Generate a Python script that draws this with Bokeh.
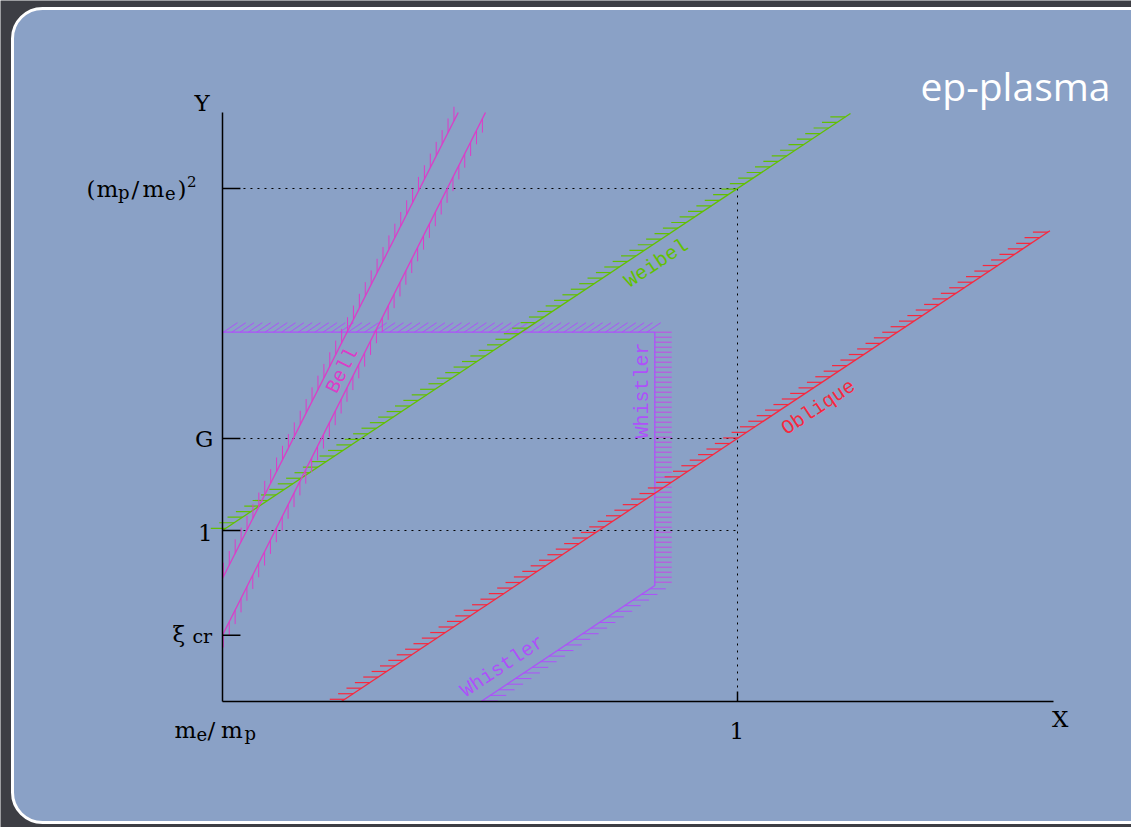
import numpy as np
from bokeh.plotting import figure
from bokeh.models import LinearAxis, FixedTicker, ColumnDataSource
from bokeh.core.properties import value
from bokeh.embed import file_html
from bokeh.resources import INLINE

# ---------------- data (log10 units of X and Y) ----------------
MP_OVER_ME = 1836.15
LOG_R = float(np.log10(MP_OVER_ME))      # log10(mp/me)
X_ORIGIN = -LOG_R                         # X = me/mp
Y_ORIGIN = -LOG_R                         # bottom of Y axis
Y_TOP = 7.98
X_END = 2.0

Y_TICK_VALUES = [-2.0, 0.0, 1.756, 2 * LOG_R]       # xi_cr, 1, G, (mp/me)^2
Y_TICK_LABELS = ["ξcr", "1", "G", "(mp/me)2"]
X_TICK_VALUES = [X_ORIGIN, 0.0]                      # me/mp, 1
X_TICK_LABELS = ["me/mp", "1"]

weibel_x = [X_ORIGIN, 0.716]
weibel_y = [0.0, 7.96]
oblique_x = [-2.51, 1.98]
oblique_y = [Y_ORIGIN, 5.72]
bell_upper_x = [X_ORIGIN, -1.770]
bell_upper_y = [-0.916, 7.98]
bell_lower_x = [X_ORIGIN, -1.597]
bell_lower_y = [-2.0, 7.98]
whistler_x = [X_ORIGIN, -0.524, -0.524, -1.625]
whistler_y = [3.785, 3.785, -1.050, Y_ORIGIN]

# ---------------- layout / style ----------------
W, H = 1131, 827
SX = 157.8      # px per unit in x
SY = 52.39      # px per unit in y
PX0, PY0 = 737.0, 530.0   # pixel of (0, 0)

def dx(px):
    return (px - PX0) / SX

def dy(py):
    return (PY0 - py) / SY

DARK = "#3d3e44"
PANEL = "#8aa1c6"
BELL = "#dc3cc8"
WHIS = "#ae50fa"
GREEN = "#62c000"
RED = "#f8283e"
SERIF = value("DejaVu Serif")
MONO = value("Liberation Mono")
BASE_FIX = -8.5   # baseline correction (px)

p = figure(width=W, height=H, x_range=(dx(0), dx(W)), y_range=(dy(H), dy(0)),
           output_backend="svg", toolbar_location=None, min_border=0,
           x_axis_location=None, y_axis_location=None,
           background_fill_color=DARK, border_fill_color=DARK,
           outline_line_color=None)
p.grid.visible = False

# rounded slide panel
p.quad(left=[dx(12)], right=[dx(1160)], top=[dy(8)], bottom=[dy(822)],
       fill_color=PANEL, line_color="white", line_width=3, border_radius=30)

# ---------------- dotted guide lines ----------------
p.segment(x0=[X_ORIGIN] * 3, y0=Y_TICK_VALUES[1:], x1=[0.0] * 3, y1=Y_TICK_VALUES[1:],
          line_color="black", line_width=1, line_dash="2 5")
p.segment(x0=[0.0], y0=[Y_ORIGIN], x1=[0.0], y1=[Y_TICK_VALUES[3]],
          line_color="black", line_width=1, line_dash="2 5")

# ---------------- hatch helper ----------------
def hatch(xs, ys, spacing, hx, hy, offset=0.0):
    bx_all, by_all, ex_all, ey_all = [], [], [], []
    for i in range(len(xs) - 1):
        x0, y0, x1, y1 = xs[i], ys[i], xs[i + 1], ys[i + 1]
        L = np.hypot((x1 - x0) * SX, (y1 - y0) * SY)
        t = np.arange(offset, L + 1e-6, spacing) / L
        bx = x0 + t * (x1 - x0)
        by = y0 + t * (y1 - y0)
        bx_all.append(bx); by_all.append(by)
        ex_all.append(bx + hx / SX); ey_all.append(by - hy / SY)
    return (np.concatenate(bx_all), np.concatenate(by_all),
            np.concatenate(ex_all), np.concatenate(ey_all))

def draw_hatch(xs, ys, spacing, hx, hy, color, offset=0.0, width=1.0):
    bx, by, ex, ey = hatch(xs, ys, spacing, hx, hy, offset)
    p.segment(x0=bx, y0=by, x1=ex, y1=ey, line_color=color, line_width=width)

# Whistler
draw_hatch(whistler_x[:2], whistler_y[:2], 8.3, 14, -9.5, WHIS, offset=1)
draw_hatch(whistler_x[1:3], whistler_y[1:3], 5.0, 17, 0, "#c64ae6", offset=0)
draw_hatch(whistler_x[2:4], whistler_y[2:4], 10.1, 16, 0, WHIS, offset=6)
p.line(whistler_x, whistler_y, line_color=WHIS, line_width=1.3)

# Weibel
draw_hatch(weibel_x, weibel_y, 10.05, -15, 0, GREEN, offset=4, width=1.2)
p.line(weibel_x, weibel_y, line_color=GREEN, line_width=1.3)

# Oblique
draw_hatch(oblique_x, oblique_y, 10.05, -15, 0, RED, offset=4, width=1.2)
p.line(oblique_x, oblique_y, line_color=RED, line_width=1.3)

# Bell
draw_hatch(bell_upper_x, bell_upper_y, 13.1, 0, -14, BELL, offset=2)
draw_hatch(bell_lower_x, bell_lower_y, 13.1, 0, 14, BELL, offset=2)
p.line(bell_upper_x, bell_upper_y, line_color=BELL, line_width=1.3)
p.line(bell_lower_x, bell_lower_y, line_color=BELL, line_width=1.3)

# ---------------- axes (lines from Bokeh axes, ticks as short segments) ----------------
yax = LinearAxis(fixed_location=X_ORIGIN, ticker=FixedTicker(ticks=[]),
                 bounds=(Y_ORIGIN, Y_TOP), major_tick_in=0, major_tick_out=0,
                 minor_tick_in=0, minor_tick_out=0,
                 axis_line_color="black", axis_line_width=1.5)
p.add_layout(yax, "left")
xax = LinearAxis(fixed_location=Y_ORIGIN, ticker=FixedTicker(ticks=[]),
                 bounds=(X_ORIGIN, X_END), major_tick_in=0, major_tick_out=0,
                 minor_tick_in=0, minor_tick_out=0,
                 axis_line_color="black", axis_line_width=1.5)
p.add_layout(xax, "below")

p.segment(x0=[X_ORIGIN] * 4, y0=Y_TICK_VALUES, x1=[X_ORIGIN + 18 / SX] * 4,
          y1=Y_TICK_VALUES, line_color="black", line_width=1.5)
p.segment(x0=[X_TICK_VALUES[1]], y0=[Y_ORIGIN], x1=[X_TICK_VALUES[1]],
          y1=[Y_ORIGIN + 10 / SY], line_color="black", line_width=1.5)

# ---------------- tick labels (pieces with sub/superscripts) ----------------
# (anchor x, anchor y, text, x offset px, y offset px, font size)
pieces = [
    # (mp/me)^2
    (X_ORIGIN, Y_TICK_VALUES[3], "(", -136.0, 8.5, 23),
    (X_ORIGIN, Y_TICK_VALUES[3], "m", -126.0, 8.5, 23),
    (X_ORIGIN, Y_TICK_VALUES[3], "p", -104.5, 12.5, 18),
    (X_ORIGIN, Y_TICK_VALUES[3], "/", -91.0, 8.5, 23),
    (X_ORIGIN, Y_TICK_VALUES[3], "m", -80.0, 8.5, 23),
    (X_ORIGIN, Y_TICK_VALUES[3], "e", -57.5, 12.5, 18),
    (X_ORIGIN, Y_TICK_VALUES[3], ")", -45.0, 8.5, 23),
    (X_ORIGIN, Y_TICK_VALUES[3], "2", -35.5, 1.5, 15),
    # G
    (X_ORIGIN, Y_TICK_VALUES[2], "G", -27.5, 9.0, 23),
    # 1
    (X_ORIGIN, Y_TICK_VALUES[1], "1", -24.5, 10.5, 23),
    # xi_cr
    (X_ORIGIN, Y_TICK_VALUES[0], "ξ", -50.0, 7.5, 23),
    (X_ORIGIN, Y_TICK_VALUES[0], "cr", -30.0, 9.0, 19),
    # me/mp
    (X_TICK_VALUES[0], Y_ORIGIN, "m", -48.0, 37.5, 23),
    (X_TICK_VALUES[0], Y_ORIGIN, "e", -26.0, 41.0, 18),
    (X_TICK_VALUES[0], Y_ORIGIN, "/", -15.0, 37.5, 23),
    (X_TICK_VALUES[0], Y_ORIGIN, "m", -1.5, 37.5, 23),
    (X_TICK_VALUES[0], Y_ORIGIN, "p", 22.0, 41.0, 18),
    # 1 on X
    (X_TICK_VALUES[1], Y_ORIGIN, "1", -8.0, 38.5, 23),
    # axis names
    (X_ORIGIN, Y_TOP, "Y", -28.0, -0.5, 23),
    (X_END, Y_ORIGIN, "X", -1.0, 26.5, 23),
]
src = ColumnDataSource(dict(
    x=[q[0] for q in pieces], y=[q[1] for q in pieces], text=[q[2] for q in pieces],
    xo=[q[3] for q in pieces], yo=[q[4] + BASE_FIX for q in pieces],
    fs=["%dpx" % q[5] for q in pieces]))
p.text(x="x", y="y", text="text", x_offset="xo", y_offset="yo", text_font_size="fs",
       source=src, text_font=SERIF, text_color="black", text_align="left",
       text_baseline="alphabetic")

# ---------------- curve labels ----------------
ang_weak = np.arctan2(0.661, 1.0)    # slope of the X^2 lines on screen
ang_bell = np.arctan2(1.98, 1.0)
curve_labels = dict(
    x=[dx(342), dx(656), dx(818), dx(642), dx(502)],
    y=[dy(370), dy(263), dy(407), dy(390), dy(666)],
    text=["Bell", "Weibel", "Oblique", "Whistler", "Whistler"],
    angle=[ang_bell, ang_weak, ang_weak, np.pi / 2, ang_weak],
    color=[BELL, GREEN, RED, WHIS, WHIS],
)
p.text(x="x", y="y", text="text", angle="angle", text_color="color",
       source=ColumnDataSource(curve_labels), text_font=MONO,
       text_font_size="20px", text_align="center", text_baseline="middle")

# slide title
p.text(x=[dx(1110)], y=[dy(95)], text=["ep-plasma"], text_color="white",
       text_font=value("Open Sans"), text_font_size="39px", text_align="right",
       text_baseline="alphabetic", y_offset=-10)

open("out.html", "w").write(file_html(p, INLINE))
